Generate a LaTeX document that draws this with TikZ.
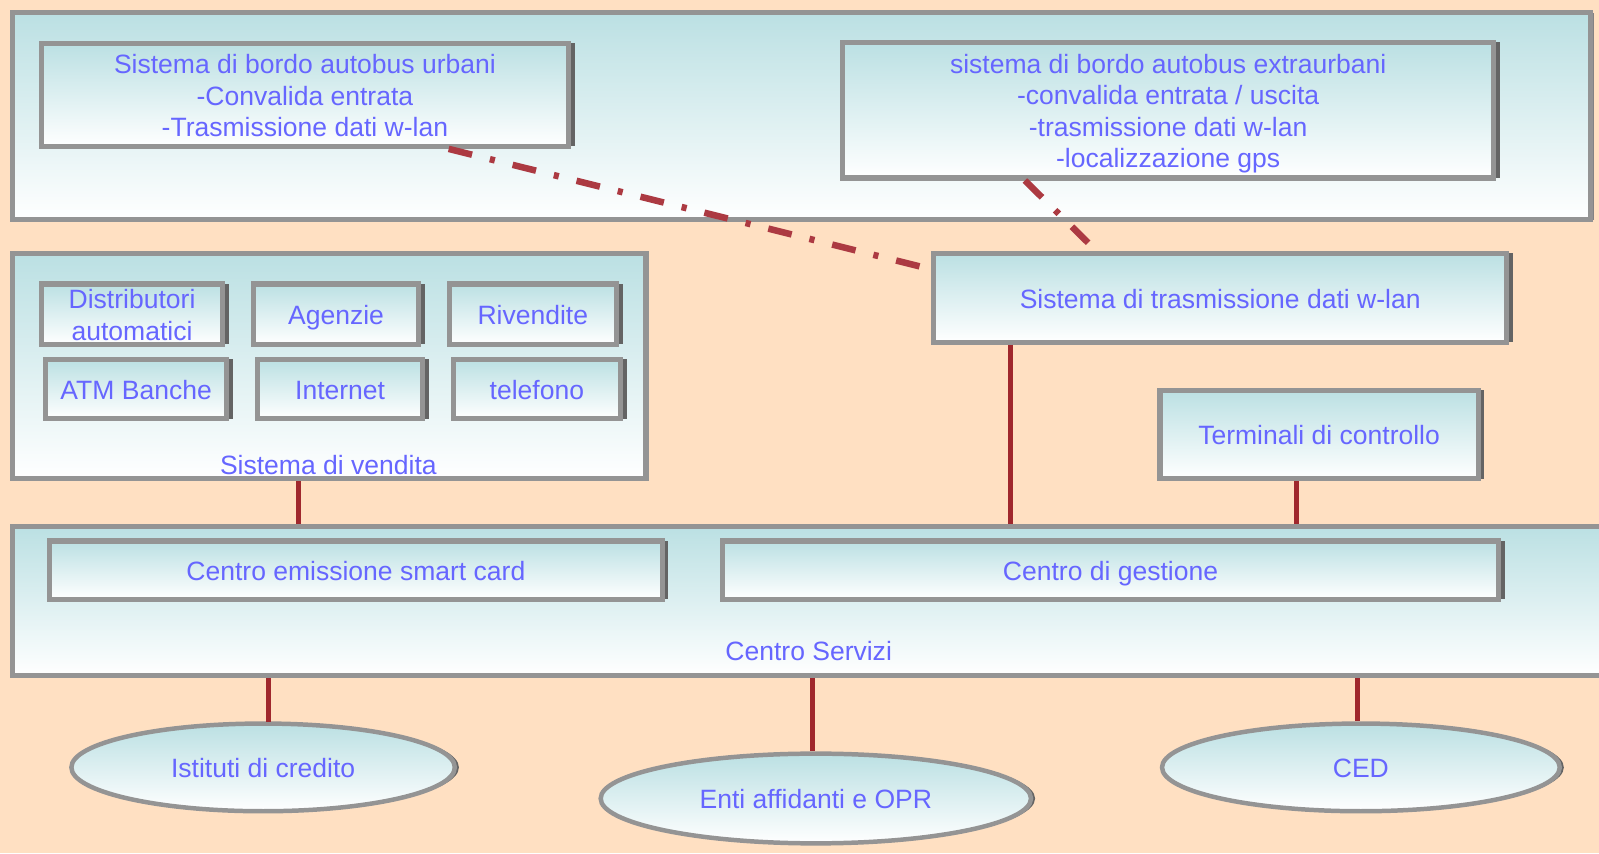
\documentclass[tikz,border=0pt]{standalone}
\usepackage{fontspec}
\setmainfont{Liberation Sans}
\usetikzlibrary{fit,shapes.geometric,shadows}
\definecolor{bg}{RGB}{255,224,194}
\definecolor{boxtop}{RGB}{187,224,227}
\definecolor{txt}{RGB}{102,102,255}
\definecolor{bord}{RGB}{148,148,148}
\definecolor{shd}{RGB}{100,100,100}
\definecolor{conn}{RGB}{160,40,45}
\definecolor{dconn}{RGB}{172,58,66}
\tikzset{
  basebox/.style={draw=bord, line width=2.5pt, top color=boxtop, bottom color=white,
    inner sep=0pt},
  box/.style={basebox, general shadow={fill=shd, shadow xshift=3pt, shadow yshift=0pt}},
  bigbox/.style={basebox, general shadow={fill=shd!80, shadow xshift=1.5pt, shadow yshift=0pt}},
  oval/.style={ellipse, draw=bord, line width=2.2pt, top color=boxtop, bottom color=white,
    inner sep=0pt, general shadow={fill=shd, shadow xshift=2pt, shadow yshift=0pt}},
  lab/.style={text=txt, font=\fontsize{13}{15.5}\selectfont, inner sep=0pt, align=center, yshift=-2pt},
  conn/.style={draw=conn, line width=2.5pt},
  dconn/.style={draw=dconn, line width=3.2pt, dash pattern=on 11.8pt off 9pt on 2.5pt off 9pt}
}
\begin{document}
\begin{tikzpicture}[x=0.5pt,y=-0.5pt]
\fill[bg] (0,0) rectangle (1568,836.5);
\useasboundingbox (0,0) rectangle (1568,836.5);

% top container
\node[bigbox, fit={(12.5,12.5) (1560,215.5)}] (top) {};
\node[box, fit={(40.5,42.5) (557.5,143.5)},
  label={[lab]center:\strut Sistema di bordo autobus urbani\\\strut -Convalida entrata\\\strut -Trasmissione dati w-lan}] (urb) {};
\node[box, fit={(826.5,41.5) (1464.5,174.5)},
  label={[lab]center:\strut sistema di bordo autobus extraurbani\\\strut -convalida entrata / uscita\\\strut -trasmissione dati w-lan\\\strut -localizzazione gps}] (ext) {};

% sales system
\node[bigbox, fit={(12.5,248.5) (633.5,469.5)}] (vend) {};
\node[box, fit={(40.5,278.5) (218.5,337.5)}, label={[lab]center:\strut Distributori\\\strut automatici}] (dis) {};
\node[box, fit={(248.5,278.5) (410.5,337.5)}, label={[lab]center:\strut Agenzie}] (age) {};
\node[box, fit={(440.5,278.5) (604.5,337.5)}, label={[lab]center:\strut Rivendite}] (riv) {};
\node[box, fit={(44.5,352.5) (222.5,410.5)}, label={[lab]center:\strut ATM Banche}] (atm) {};
\node[box, fit={(252.5,352.5) (414.5,410.5)}, label={[lab]center:\strut Internet}] (int) {};
\node[box, fit={(444.5,352.5) (608.5,410.5)}, label={[lab]center:\strut telefono}] (tel) {};
\node[lab] (vendlab) at (322,455) {\strut Sistema di vendita};

% transmission / terminals
\node[box, fit={(915.5,248.5) (1477.5,335.5)}, label={[lab]center:\strut Sistema di trasmissione dati w-lan}] (tras) {};
\node[box, fit={(1137.5,382.5) (1449.5,469.5)}, label={[lab]center:\strut Terminali di controllo}] (term) {};

% service centre
\node[bigbox, fit={(12.5,516.5) (1600,662.5)}] (cs) {};
\node[box, fit={(48.5,530.5) (649.5,587.5)}, label={[lab]center:\strut Centro emissione smart card}] (cem) {};
\node[box, fit={(708.5,530.5) (1469.5,587.5)}, label={[lab]center:\strut Centro di gestione}] (ges) {};
\node[lab] (cslab) at (793,637) {\strut Centro Servizi};

% ellipses
\node[oval, minimum width=188pt, minimum height=43pt, label={[lab]center:\strut Istituti di credito}] (ist) at (258,752.5) {};
\node[oval, minimum width=211pt, minimum height=44pt, label={[lab]center:\strut Enti affidanti e OPR}] (enti) at (800,783) {};
\node[oval, minimum width=195pt, minimum height=43pt, label={[lab]center:\strut CED}] (ced) at (1334.5,752.5) {};

% solid connectors
\coordinate (c1) at ([xshift=-15pt]vend.south);
\draw[conn] (c1) -- (c1 |- cs.north);
\coordinate (c2) at ([xshift=-103pt]tras.south);
\draw[conn] (c2) -- (c2 |- cs.north);
\coordinate (c3) at ([xshift=-11pt]term.south);
\draw[conn] (c3) -- (c3 |- cs.north);
\coordinate (c4) at (ist.north -| 263,0);
\coordinate (c4b) at (c4 |- cs.south);
\draw[conn] (c4b) -- ([yshift=-0.5pt]ist.north -| c4b);
\coordinate (c5) at (enti.north -| 797,0);
\draw[conn] (c5 |- cs.south) -- (c5);
\coordinate (c6) at (ced.north -| 1331,0);
\draw[conn] (c6 |- cs.south) -- (c6);

% dash-dot links
\coordinate (d1s) at (urb.south -| 440,0);
\coordinate (d1e) at (905,262);
\draw[dconn] (d1s) -- (d1e);
\coordinate (d2s) at (ext.south -| 1005,0);
\coordinate (d2e) at (1067,238);
\draw[dconn] (d2s) -- (d2e);
\end{tikzpicture}
\end{document}
